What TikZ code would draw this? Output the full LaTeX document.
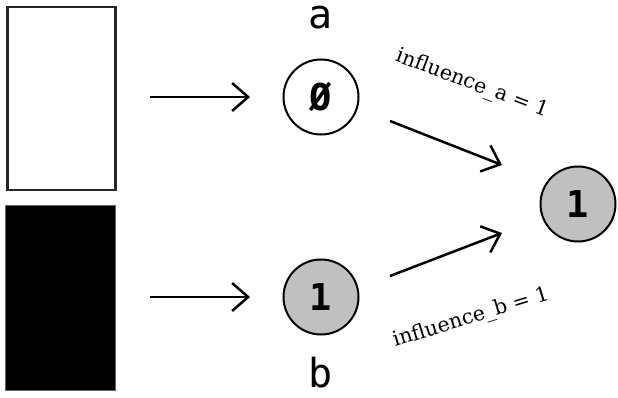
\documentclass[tikz,border=0pt]{standalone}
\usepackage{fontspec}
\usetikzlibrary{arrows.meta}
\newfontfamily\monofont{DejaVu Sans Mono}
\newfontfamily\serifB{DejaVu Serif}
\definecolor{nodegray}{HTML}{C0C0C0}
\begin{document}
\begin{tikzpicture}[x=1pt,y=-1pt,
  neuron/.style={circle,draw=black,line width=2pt,minimum size=75pt,inner sep=0pt,
    font=\monofont\bfseries\fontsize{37}{37}\selectfont},
  biglabel/.style={font=\monofont\fontsize{40}{40}\selectfont,anchor=base,inner sep=0pt},
  conn/.style={line width=2.5pt,-{Straight Barb[length=16pt,width=28pt,line width=2.5pt]}},
  inflabel/.style={font=\serifB\fontsize{20.5}{20.5}\selectfont,inner sep=0pt}]
\useasboundingbox (0,0) rectangle (618,398);
\fill[white] (0,0) rectangle (618,398);
% input blocks
\node[draw=black!85,line width=2.5pt,fill=white,minimum width=108pt,minimum height=183pt,inner sep=0pt,anchor=north west] (wrect) at (6,6) {};
\node[draw=black!60,line width=1pt,fill=black,minimum width=110pt,minimum height=185pt,inner sep=0pt,anchor=north west] (brect) at (5,205) {};
% neurons
\node[neuron,fill=white] (na) at (321,97) {Ø};
\node[neuron,fill=nodegray] (nb) at (321,297) {1};
\node[neuron,fill=nodegray] (out) at (578,204) {1};
% labels
\node[biglabel] (la) at (321,29) {a};
\node[biglabel] (lb) at (321,387) {b};
% coordinates for arrows
\coordinate (a1s) at (150,97);
\coordinate (a1e) at (250,97);
\coordinate (a2s) at (150,297);
\coordinate (a2e) at (250,297);
\coordinate (a3s) at (390,121);
\coordinate (a3e) at (502,165);
\coordinate (a4s) at (390,276);
\coordinate (a4e) at (502,233);
\draw[conn] (a1s) -- (a1e);
\draw[conn] (a2s) -- (a2e);
\draw[conn] (a3s) -- (a3e);
\draw[conn] (a4s) -- (a4e);
% influence labels
\node[inflabel,rotate=-20.5] (ia) at (472,84) {influence\_a = 1};
\node[inflabel,rotate=17] (ib) at (471,318) {influence\_b = 1};
\end{tikzpicture}
\end{document}
